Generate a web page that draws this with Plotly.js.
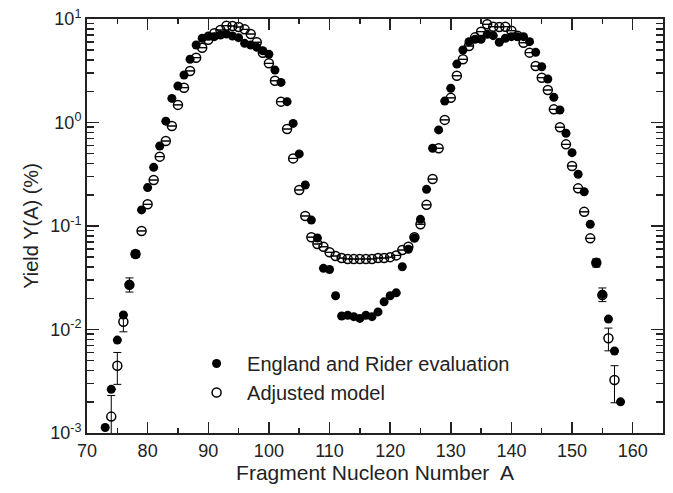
<!DOCTYPE html>
<html>
<head>
<meta charset="utf-8">
<script src="https://cdn.plot.ly/plotly-3.0.1.min.js"></script>
<style>html,body{margin:0;padding:0;background:#fff}#chart{width:673px;height:493px}</style>
</head>
<body>
<div id="chart"></div>
<script>
// England and Rider evaluation (filled)
var erA = [73,74,75,76,77,78,79,80,81,82,83,84,85,86,87,88,89,90,91,92,93,94,95,96,97,98,99,100,
  101,102,103,104,105,106,107,108,109,110,111,112,113,114,115,116,117,118,119,120,121,122,123,124,125,
  126,127,128,129,130,131,132,133,134,135,136,137,138,139,140,141,142,143,144,145,146,147,148,149,150,
  151,152,153,154,155,156,157,158];
var erY = [0.00113,0.00264,0.0079,0.0138,0.027,0.0536,0.143,0.235,0.369,0.593,1.03,1.71,2.25,2.88,4.08,5.61,6.51,6.85,6.75,7.0,7.16,6.85,6.6,5.82,5.6,5.33,4.94,4.56,
  3.21,2.44,1.59,0.98,0.497,0.249,0.114,0.0766,0.039,0.038,0.0212,0.0135,0.0137,0.0133,0.0128,0.0137,0.0133,0.0148,0.0185,0.0212,0.0226,0.0404,0.0596,0.0766,0.116,
  0.226,0.564,0.848,1.61,2.14,3.67,5.02,6.04,6.37,6.37,7.11,6.9,5.96,6.51,6.75,6.75,6.75,6.04,4.76,3.46,2.63,1.75,1.32,0.787,0.511,
  0.316,0.214,0.104,0.0441,0.0219,0.0126,0.0062,0.002];
var erErrA = [155];
var erErrP = [0.0033];
var erErrM = [0.0033];

// Adjusted model (open)
var amA = [74,75,76,77,78,79,80,81,82,83,84,85,86,87,88,89,90,91,92,93,94,95,96,97,98,99,100,
  101,102,103,104,105,106,107,108,109,110,111,112,113,114,115,116,117,118,119,120,121,122,123,124,125,
  126,127,128,129,130,131,132,133,134,135,136,137,138,139,140,141,142,143,144,145,146,147,148,149,150,
  151,152,153,154,155,156,157];
var amY = [0.00144,0.00447,0.0119,0.027,0.0536,0.0896,0.162,0.278,0.468,0.662,0.925,1.48,2.17,3.15,4.23,5.28,6.3,7.27,7.83,8.61,8.56,8.37,7.94,7.16,5.96,4.72,3.73,
  2.53,1.59,0.865,0.45,0.223,0.125,0.078,0.067,0.063,0.0557,0.0513,0.049,0.048,0.048,0.048,0.048,0.048,0.049,0.049,0.05,0.052,0.0586,0.063,0.078,0.104,
  0.16,0.284,0.564,1.06,1.73,2.83,4.08,5.48,6.65,7.54,8.89,8.43,8.37,8.43,7.71,6.9,5.9,4.73,3.51,2.71,2.06,1.34,0.9,0.615,0.38,
  0.231,0.137,0.076,0.0441,0.0215,0.00822,0.00325];
var amErrA = [74,75,76,77,78,154,156,157];
var amErrP = [0.00086,0.00153,0.0019,0.0045,0.004,0.004,0.0021,0.00122];
var amErrM = [0.0006,0.00152,0.0024,0.004,0.004,0.004,0.0020,0.00129];

var legendNames = ['England and Rider evaluation', 'Adjusted model'];
var xTickVals = [70,80,90,100,110,120,130,140,150,160];
var yTickVals = [0.001,0.01,0.1,1,10];
var yTickText = ['10<sup>-3</sup>','10<sup>-2</sup>','10<sup>-1</sup>','10<sup>0</sup>','10<sup>1</sup>'];

function errArr(A, eA, eV) {
  return A.map(function(a){ var k = eA.indexOf(a); return k >= 0 ? eV[k] : 0; });
}

var yMinor = [];
for (var e = -3; e < 1; e++) for (var m = 2; m <= 9; m++) yMinor.push(m * Math.pow(10, e));

var font = 'Liberation Sans, Arial, Helvetica, sans-serif';
var ink = '#222';

var traces = [
  {
    x: erA, y: erY, type: 'scatter', mode: 'markers', name: legendNames[0], legendgroup: 'a',
    marker: {symbol: 'circle', size: 9, color: '#000'},
    error_y: {type: 'data', symmetric: false, array: errArr(erA, erErrA, erErrP), arrayminus: errArr(erA, erErrA, erErrM), color: '#000', thickness: 1, width: 4}
  },
  {
    x: amA, y: amY, type: 'scatter', mode: 'markers', name: legendNames[1], legendgroup: 'b',
    marker: {symbol: 'circle-open', size: 9, color: '#000', line: {width: 1.5, color: '#000'}},
    error_y: {type: 'data', symmetric: false, array: errArr(amA, amErrA, amErrP), arrayminus: errArr(amA, amErrA, amErrM), color: '#000', thickness: 1, width: 4}
  }
];

var layout = {
  width: 673, height: 493,
  margin: {l: 87, r: 10, t: 19, b: 60},
  paper_bgcolor: '#fff', plot_bgcolor: '#fff',
  font: {family: font, size: 18, color: ink},
  showlegend: true,
  legend: {x: 0.172, y: 0.215, xanchor: 'left', yanchor: 'top', bgcolor: 'rgba(0,0,0,0)',
    font: {family: font, size: 20, color: ink}, traceorder: 'grouped', tracegroupgap: 0, itemwidth: 51},
  xaxis: {
    type: 'linear', range: [70, 165], showgrid: false, zeroline: false,
    showline: true, linewidth: 2, linecolor: ink, mirror: 'ticks',
    ticks: 'inside', ticklen: 11, tickwidth: 1.5, tickcolor: ink,
    tickvals: xTickVals, ticktext: xTickVals.map(String),
    tickfont: {family: font, size: 18, color: ink},
    minor: {ticks: 'inside', dtick: 5, tick0: 0, ticklen: 5, tickwidth: 1.5, tickcolor: ink, showgrid: false},
    title: {text: 'Fragment Nucleon Number&nbsp; A', font: {family: font, size: 21, color: ink}, standoff: 5}
  },
  yaxis: {
    type: 'log', range: [-3, 1], showgrid: false, zeroline: false,
    showline: true, linewidth: 2, linecolor: ink, mirror: 'ticks',
    ticks: 'inside', ticklen: 12, tickwidth: 1.5, tickcolor: ink,
    tickvals: yTickVals, ticktext: yTickText,
    tickfont: {family: font, size: 18, color: ink},
    minor: {ticks: 'inside', tickvals: yMinor, ticklen: 7, tickwidth: 1.5, tickcolor: ink, showgrid: false},
    title: {text: 'Yield Y(A) (%)', font: {family: font, size: 20, color: ink}, standoff: 6}
  }
};

Plotly.newPlot('chart', traces, layout, {displayModeBar: false, staticPlot: true});
</script>
</body>
</html>
